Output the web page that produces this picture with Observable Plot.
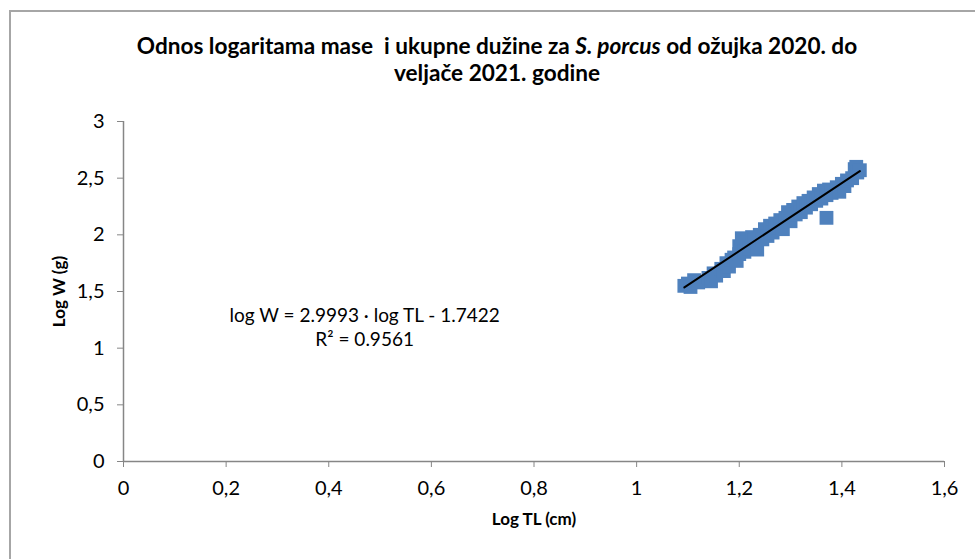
<!DOCTYPE html>
<html>
<head>
<meta charset="utf-8">
<script src="https://cdn.jsdelivr.net/npm/d3@7"></script>
<script src="https://cdn.jsdelivr.net/npm/@observablehq/plot@0.6"></script>
<style>
  html, body { margin: 0; padding: 0; background: #fff; }
  #wrap { position: relative; width: 975px; height: 559px; overflow: hidden; }
  #frame { position: absolute; left: 9px; top: 10px; width: 1000px; height: 600px;
           border-left: 2px solid #a6a6a6; border-top: 2px solid #a6a6a6; box-sizing: border-box; }
  #chart { position: absolute; left: 0; top: 0; }
  #title { position: absolute; left: 0; top: 32px; width: 994px; text-align: center;
           font-family: Lato, "Open Sans", sans-serif; font-weight: bold; font-size: 22.6px; line-height: 27px; color: #000; }
</style>
</head>
<body>
<div id="wrap">
  <div id="frame"></div>
  <div id="chart"></div>
  <div id="title">Odnos logaritama mase&nbsp; i ukupne dužine za <i>S. porcus</i> od ožujka 2020. do<br>veljače 2021. godine</div>
</div>
<script>
// Data (log TL in cm, log W in g)
const logTL = [1.093,1.100,1.105,1.112,1.120,1.140,1.145,1.150,1.155,1.165,1.170,1.175,1.180,1.185,1.190,1.195,1.200,1.200,1.205,1.210,1.215,1.220,1.225,1.230,1.235,1.240,1.245,1.250,1.255,1.260,1.265,1.270,1.275,1.280,1.285,1.290,1.295,1.300,1.305,1.310,1.315,1.320,1.325,1.330,1.335,1.340,1.345,1.350,1.355,1.360,1.365,1.370,1.370,1.375,1.380,1.390,1.395,1.400,1.405,1.410,1.420,1.425,1.428,1.430,1.435];
const logW  = [1.55,1.57,1.54,1.60,1.58,1.62,1.59,1.66,1.64,1.70,1.68,1.75,1.72,1.78,1.80,1.77,1.83,1.90,1.97,1.85,1.93,1.88,1.98,1.95,1.87,2.00,1.96,2.05,1.99,2.08,2.02,2.10,2.06,2.13,2.05,2.15,2.20,2.12,2.22,2.18,2.25,2.20,2.28,2.24,2.30,2.27,2.33,2.30,2.36,2.32,2.39,2.15,2.35,2.40,2.37,2.42,2.38,2.45,2.43,2.48,2.50,2.58,2.60,2.55,2.57];
const slope = 2.9993;
const intercept = -1.7422;
const rSquared = 0.9561;
const xTicks = [0, 0.2, 0.4, 0.6, 0.8, 1, 1.2, 1.4, 1.6];
const yTicks = [0, 0.5, 1, 1.5, 2, 2.5, 3];

const points = logTL.map((x, i) => ({x, y: logW[i]}));
const xMin = d3.min(logTL), xMax = d3.max(logTL);
const trend = [xMin, xMax].map(x => ({x, y: slope * x + intercept}));
const fmt = d => String(d).replace(".", ",");
const eq = `log W = ${slope.toFixed(4)} · log TL - ${Math.abs(intercept).toFixed(4)}\nR² = ${rSquared.toFixed(4)}`;

const chart = Plot.plot({
  width: 975,
  height: 559,
  marginLeft: 123,
  marginRight: 31,
  marginTop: 121,
  marginBottom: 98,
  style: {fontFamily: "Lato, 'Open Sans', sans-serif", fontSize: "20px", color: "#000", background: "transparent"},
  x: {domain: [0, 1.6], label: null},
  y: {domain: [0, 3], label: null},
  marks: [
    Plot.ruleX([0], {stroke: "#868686", strokeWidth: 1.5}),
    Plot.ruleY([0], {stroke: "#868686", strokeWidth: 1.5}),
    Plot.axisX({ticks: xTicks, tickFormat: fmt, tickSize: 6, tickPadding: 13, stroke: "#868686", fill: "#000", fontSize: 20, label: null}),
    Plot.axisY({ticks: yTicks, tickFormat: fmt, tickSize: 6, tickPadding: 13, stroke: "#868686", fill: "#000", fontSize: 20, label: null}),
    Plot.dot(points, {x: "x", y: "y", symbol: "square", r: 7.8, fill: "#4f81bd", stroke: "none"}),
    Plot.line(trend, {x: "x", y: "y", stroke: "#000", strokeWidth: 2}),
    Plot.text([eq], {x: 0.47, y: 1.19, text: d => d, fontSize: 19, lineHeight: 1.25, fill: "#000", textAnchor: "middle"}),
    Plot.text(["Log TL (cm)"], {frameAnchor: "bottom", dy: 63, text: d => d, fontWeight: "bold", fontSize: 17, fill: "#000", textAnchor: "middle"}),
    Plot.text(["Log W (g)"], {frameAnchor: "left", dx: -64, rotate: -90, text: d => d, fontWeight: "bold", fontSize: 17, fill: "#000", textAnchor: "middle"})
  ]
});
document.getElementById("chart").appendChild(chart);
</script>
</body>
</html>
